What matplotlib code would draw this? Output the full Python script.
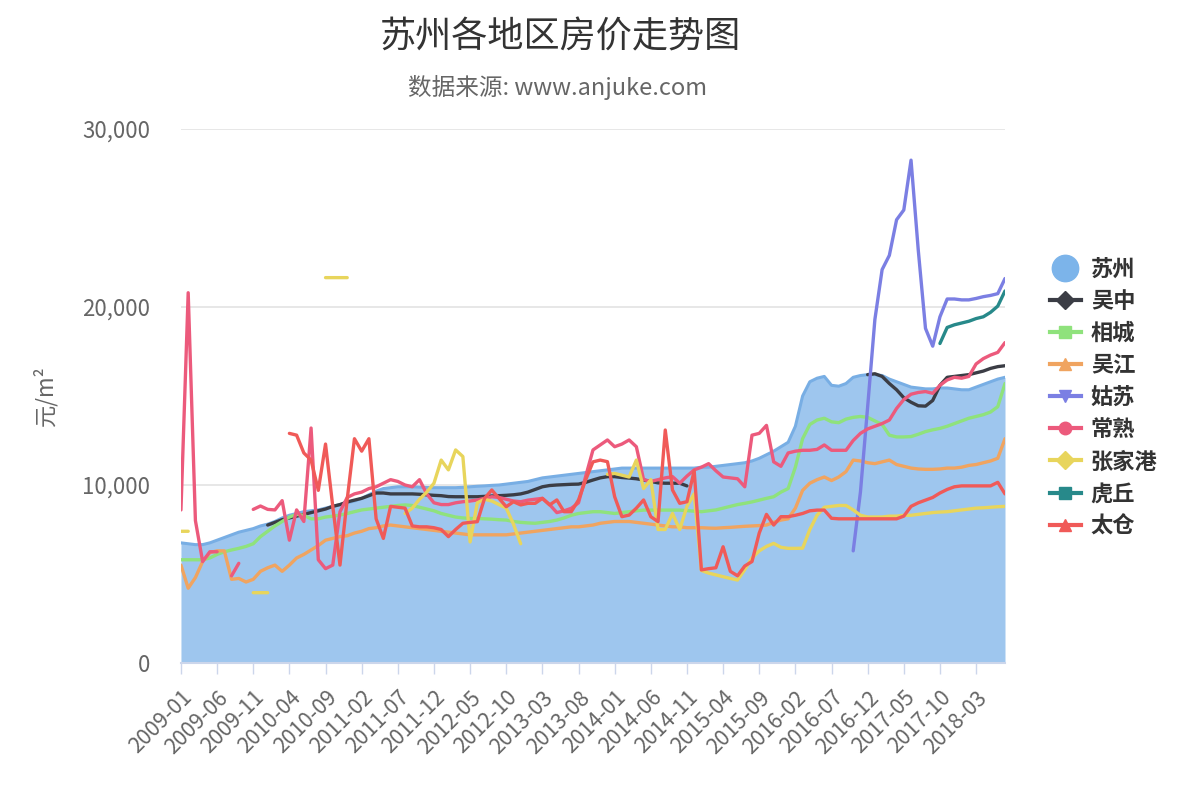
import numpy as np
import pandas as pd
import matplotlib
matplotlib.use("Agg")
import matplotlib.pyplot as plt
from matplotlib.lines import Line2D

plt.rcParams['font.family'] = ['Noto Sans CJK SC', 'DejaVu Sans']

N = None
# 月份 2009-01 .. 2018-07
meses = pd.period_range("2009-01", "2018-07", freq="M").strftime("%Y-%m").tolist()

suzhou = [6750, 6700, 6650, 6650, 6750, 6900, 7050, 7200, 7350, 7450,
          7550, 7700, 7800, 7950, 8150, 8300, 8400, 8500, 8550, 8600,
          8700, 8800, 8900, 9000, 9100, 9250, 9450, 9650, 9800, 9850,
          9900, 9900, 9900, 9880, 9860, 9850, 9850, 9850, 9850, 9870,
          9900, 9930, 9950, 9980, 10000, 10050, 10100, 10150, 10200, 10300,
          10400, 10450, 10500, 10550, 10600, 10650, 10700, 10750, 10800, 10850,
          10900, 10950, 10950, 10950, 10950, 10950, 10950, 10950, 10950, 10950,
          10950, 10950, 11000, 11000, 11050, 11100, 11150, 11200, 11250, 11350,
          11500, 11700, 11900, 12150, 12400, 13300, 15000, 15800, 16000, 16100,
          15600, 15550, 15700, 16050, 16150, 16200, 16200, 16150, 15950, 15800,
          15650, 15500, 15450, 15400, 15400, 15450, 15450, 15400, 15350, 15350,
          15500, 15650, 15800, 15950, 16050]

wuzhong = [N] * 12 + [
          7750, 7900, 8050, 8150, 8250, 8350, 8450, 8550,
          8650, 8800, 8900, 9050, 9150, 9250, 9400, 9550, 9550, 9500,
          9500, 9500, 9500, 9480, 9450, 9420, 9400, 9350, 9340, 9340,
          9340, 9340, 9360, 9380, 9400, 9420, 9450, 9500, 9600, 9750,
          9900, 9970, 10000, 10020, 10040, 10050, 10150, 10280, 10400, 10470,
          10470, 10420, 10390, 10350, 10280, 10200, 10120, 10100, 10100, 10100,
          9950] + [N] * 24 + [
          16200, 16250, 16100, 15700, 15350, 14900, 14650, 14450, 14430, 14750,
          15600, 16050, 16100, 16150, 16200, 16300, 16400, 16550, 16650, 16700]

xiangcheng = [5800, 5800, 5800, 5800, 5900, 6100, 6250, 6350, 6440, 6550,
              6700, 7100, 7400, 7700, 7950, 8200, 8350, 8300, 8100, 8100,
              8200, 8250, 8310, 8400, 8500, 8600, 8650, 8700, 8750, 8800,
              8850, 8880, 8850, 8750, 8650, 8550, 8400, 8300, 8200, 8150,
              8120, 8120, 8100, 8080, 8050, 8030, 7950, 7900, 7870, 7850,
              7900, 7950, 8030, 8150, 8300, 8400, 8450, 8500, 8500, 8450,
              8400, 8450, 8500, 8550, 8590, 8590, 8590, 8590, 8590, 8590,
              8560, 8530, 8500, 8550, 8600, 8700, 8800, 8900, 8970, 9050,
              9150, 9250, 9340, 9600, 9800, 11000, 12600, 13400, 13650, 13750,
              13550, 13500, 13700, 13800, 13850, 13800, 13600, 13400, 12800, 12700,
              12700, 12720, 12850, 13000, 13100, 13180, 13300, 13450, 13600, 13750,
              13850, 13950, 14100, 14400, 15700]

wujiang = [5500, 4200, 4800, 5700, 6200, 6300, 6300, 4700, 4750, 4550,
           4700, 5150, 5350, 5500, 5150, 5500, 5900, 6100, 6350, 6600,
           6900, 7000, 7100, 7150, 7300, 7400, 7550, 7600, 7700, 7750,
           7700, 7650, 7600, 7550, 7500, 7450, 7400, 7350, 7300, 7250,
           7200, 7200, 7200, 7200, 7200, 7200, 7250, 7300, 7350, 7400,
           7450, 7500, 7550, 7600, 7650, 7650, 7700, 7750, 7850, 7900,
           7950, 7950, 7950, 7900, 7850, 7800, 7750, 7700, 7650, 7650,
           7600, 7600, 7600, 7580, 7570, 7600, 7620, 7650, 7680, 7700,
           7720, 7750, 7900, 8030, 8100, 8700, 9700, 10100, 10300, 10450,
           10250, 10450, 10750, 11400, 11350, 11250, 11200, 11300, 11400, 11150,
           11050, 10950, 10900, 10880, 10880, 10900, 10950, 10950, 11000, 11100,
           11150, 11250, 11350, 11500, 12600]

gusu = [N] * 93 + [6300, 9600, 14400, 19300, 22100, 22900, 24900, 25450, 28250, 23200,
                   18800, 17800, 19450, 20450, 20450, 20400, 20400, 20480, 20580, 20650,
                   20750, 21600]

changshu = [8600, 20800, 8000, 5700, 6250, 6250, N, 4900, 5600, N,
            8630, 8820, 8630, 8600, 9120, 6900, 8600, 7950, 13200, 5800,
            5300, 5500, 8500, 9300, 9500, 9600, 9800, 9900, 10100, 10300,
            10200, 10000, 9900, 10300, 9500, 9000, 8900, 8900, 9000, 9060,
            9100, 9160, 9250, 9340, 9300, 9200, 9100, 9060, 9150, 9200,
            9250, 8900, 8450, 8550, 8690, 9000, 10500, 11970, 12250, 12530,
            12150, 12300, 12530, 12150, 10300, 10200, 10300, 10400, 10470, 10100,
            10500, 10850, 11000, 11200, 10800, 10450, 10400, 10350, 9900, 12800,
            12900, 13350, 11300, 11050, 11800, 11900, 11950, 11950, 12000, 12250,
            11950, 11950, 11950, 12500, 12900, 13150, 13300, 13450, 13650, 14300,
            14800, 15100, 15200, 15250, 15150, 15600, 15900, 16050, 16000, 16100,
            16800, 17100, 17300, 17450, 18000]

zhangjiagang = ([7400, 7400] + [N] * 8 + [3950, 3950, 3950] + [N] * 7 +
                [21650] * 4 + [N] * 7 +
                [8400, 8700, 9200, 9600, 10100, 11400, 10850, 11970, 11600,
                 6800, 9000, 9200, 9100, 8900, 8700, 7800, 6700] + [N] * 11 +
                [10600, 10650, 10550, 10450, 11400, 9800, 10300, 7500, 7500, 8400,
                 7500, 8800, 9500, 5200, 5050, 4950, 4850, 4750, 4660, 5250,
                 5900, 6300, 6550, 6720, 6500, 6440, 6440, 6450, 7500, 8300,
                 8750, 8800, 8850, 8850, 8600, 8300, 8200, 8200, 8200, 8250,
                 8250, 8300, 8300, 8350, 8400, 8450, 8480, 8500, 8550, 8600,
                 8650, 8700, 8720, 8750, 8780, 8800])

huqiu = [N] * 105 + [17950, 18850, 19000, 19100, 19200, 19350, 19450, 19700, 20050, 20900]

taicang = [N] * 15 + [
           12900, 12800, 11800, 11400, 9700,
           12300, 8800, 5500, 9200, 12600, 11900, 12600, 8100, 7000, 8800,
           8750, 8700, 7700, 7650, 7650, 7600, 7500, 7100, 7500, 7850,
           7900, 7940, 9250, 9720, 9250, 8780, 9060, 8880, 8970, 8970,
           9250, 8880, 9160, 8500, 8500, 9160, 10300, 11300, 11400, 11310,
           9340, 8220, 8310, 8700, 9160, 8220, 7940, 13090, 9720, 8970,
           9060, 10800, 5230, 5300, 5350, 6530, 5150, 4900, 5450, 5700,
           7300, 8350, 7750, 8220, 8220, 8300, 8400, 8550, 8590, 8590,
           8130, 8100, 8100, 8100, 8100, 8100, 8100, 8100, 8100, 8100,
           8250, 8800, 9000, 9150, 9300, 9550, 9750, 9900, 9950, 9950,
           9950, 9950, 9950, 10150, 9500]

series = [
    ("吴中", wuzhong, "#3b3d45", "D"),
    ("相城", xiangcheng, "#8fe27c", "s"),
    ("吴江", wujiang, "#f0a460", "^"),
    ("姑苏", gusu, "#7b7fe3", "v"),
    ("常熟", changshu, "#ec5a7c", "o"),
    ("张家港", zhangjiagang, "#e8d55c", "D"),
    ("虎丘", huqiu, "#27898a", "s"),
    ("太仓", taicang, "#f05a58", "^"),
]

x = np.arange(len(meses))

fig = plt.figure(figsize=(12, 8), dpi=100)
ax = fig.add_axes([0.1508, 0.17125, 0.6867, 0.6675])

sz = np.array(suzhou, dtype=float)
ax.fill_between(x, sz, color="#9ec6ee", zorder=1, lw=0)
ax.plot(x, sz, color="#78aee4", lw=2.2, zorder=2)

for nome, vals, cor, m in series:
    v = np.array([np.nan if a is None else a for a in vals], dtype=float)
    ax.plot(x, v, color=cor, lw=2.4, zorder=3, solid_capstyle="round")

ax.set_xlim(0, len(meses) - 1)
ax.set_ylim(0, 30000)
ax.set_yticks([0, 10000, 20000, 30000])
ax.set_yticklabels(["0", "10,000", "20,000", "30,000"])
ax.yaxis.grid(True, color="#e3e3e3", lw=1.2, zorder=0)
ax.set_axisbelow(True)
ax.set_xticks(x[::5])
ax.set_xticklabels(meses[::5], rotation=45, ha="right", rotation_mode="anchor")

for s in ["top", "right", "left"]:
    ax.spines[s].set_visible(False)
ax.spines["bottom"].set_color("#ccd6eb")
ax.spines["bottom"].set_linewidth(1.5)
ax.tick_params(axis="y", length=0, pad=22, labelsize=16, labelcolor="#666666")
ax.tick_params(axis="x", length=8, color="#ccd6eb", width=1, pad=9,
               labelsize=15.5, labelcolor="#666666")

fig.text(0.0375, 0.506, "元/m²", rotation=90, ha="center", va="center",
         fontsize=16, color="#666666")
fig.text(0.4667, 0.953, "苏州各地区房价走势图", ha="center", va="center",
         fontsize=26, color="#333333")
fig.text(0.465, 0.891, "数据来源: www.anjuke.com", ha="center", va="center",
         fontsize=17, color="#666666")

handles = [Line2D([0], [0], ls="none", marker="o", markersize=19, color="#7cb4ea")]
for nome, vals, cor, m in series:
    handles.append(Line2D([0], [0], color=cor, lw=3, marker=m, markersize=9))
nomes = ["苏州"] + [s[0] for s in series]
leg = fig.legend(handles, nomes, loc="upper left", bbox_to_anchor=(0.858, 0.703),
                 frameon=False, fontsize=16, handlelength=1.4, labelspacing=0.41,
                 handletextpad=0.45)
for t in leg.get_texts():
    t.set_fontweight("bold")
    t.set_color("#333333")

fig.savefig("out.png", dpi=100)
